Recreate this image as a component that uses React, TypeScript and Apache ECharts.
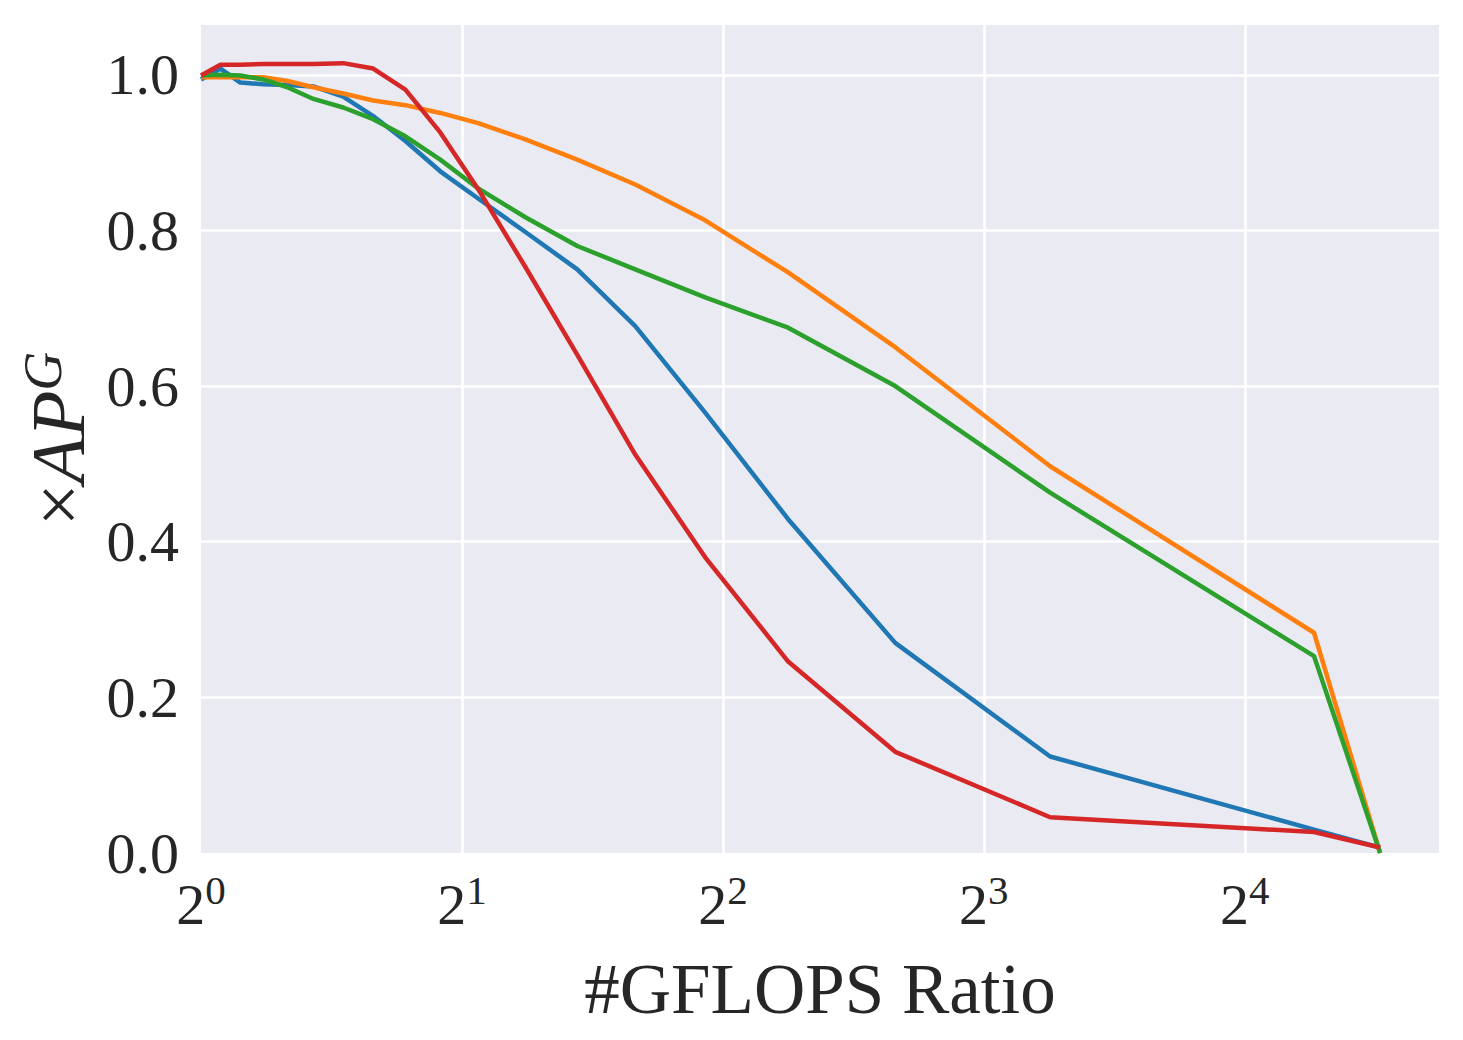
import React, { useEffect, useRef } from "react";
import * as echarts from "echarts";

// GFLOPS ratio (x, log2 axis)
const gflopsRatio = [
  1.0, 1.053, 1.11, 1.18, 1.258, 1.348, 1.459, 1.58, 1.721, 1.888,
  2.088, 2.367, 2.717, 3.169, 3.816, 4.757, 6.322, 9.54, 19.23, 22.92,
];
// ×AP^G for each method
const blueSeries = [
  0.994, 1.008, 0.99, 0.988, 0.987, 0.985, 0.972, 0.947, 0.915, 0.876,
  0.841, 0.798, 0.75, 0.677, 0.566, 0.429, 0.27, 0.124, 0.03, 0.007,
];
const orangeSeries = [
  0.997, 0.997, 0.997, 0.997, 0.992, 0.984, 0.976, 0.967, 0.961, 0.951,
  0.938, 0.917, 0.891, 0.859, 0.813, 0.746, 0.65, 0.497, 0.283, 0.0,
];
const greenSeries = [
  0.999, 1.0, 0.999, 0.994, 0.984, 0.969, 0.958, 0.943, 0.921, 0.891,
  0.854, 0.817, 0.78, 0.75, 0.714, 0.675, 0.6, 0.463, 0.253, 0.0,
];
const redSeries = [
  0.999, 1.013, 1.013, 1.014, 1.014, 1.014, 1.015, 1.008, 0.981, 0.926,
  0.853, 0.753, 0.64, 0.512, 0.38, 0.246, 0.13, 0.046, 0.027, 0.007,
];

const seriesList = [
  { name: "blue", color: "#1f77b4", values: blueSeries },
  { name: "orange", color: "#ff7f0e", values: orangeSeries },
  { name: "green", color: "#2ca02c", values: greenSeries },
  { name: "red", color: "#d62728", values: redSeries },
];

const X_MIN = 1;
const X_MAX = 26.8;
const Y_MIN = 0;
const Y_MAX = 1.064;

const FONT = "'Liberation Serif', 'DejaVu Serif', serif";
const TXT = "#262626";

export default function App() {
  const ref = useRef<HTMLDivElement>(null);
  useEffect(() => {
    if (!ref.current) return;
    const chart = echarts.init(ref.current, undefined, { renderer: "svg" });
    chart.setOption({
      animation: false,
      backgroundColor: "#ffffff",
      grid: {
        left: 201,
        right: 24,
        top: 25,
        bottom: 187,
        show: true,
        backgroundColor: "#EAEAF2",
        borderWidth: 0,
      },
      xAxis: {
        type: "log",
        logBase: 2,
        min: X_MIN,
        max: X_MAX,
        axisLine: { show: false },
        axisTick: { show: false },
        splitLine: {
          show: true,
          showMinLine: false,
          showMaxLine: false,
          lineStyle: { color: "#ffffff", width: 2.6 },
        },
        axisLabel: {
          showMaxLabel: false,
          margin: 16,
          fontFamily: FONT,
          color: TXT,
          formatter: (v: number) => {
            const e = Math.log2(v);
            const n = Math.round(e);
            if (Math.abs(e - n) > 1e-6) return "";
            return `{b|2}{s|${n}}`;
          },
          rich: {
            b: { fontFamily: FONT, fontSize: 58, color: TXT, lineHeight: 64, verticalAlign: "bottom" },
            s: { fontFamily: FONT, fontSize: 41, color: TXT, lineHeight: 40, verticalAlign: "top" },
          },
        },
        name: "#GFLOPS Ratio",
        nameLocation: "middle",
        nameGap: 100,
        nameTextStyle: { fontFamily: FONT, fontSize: 71, color: TXT },
      },
      yAxis: {
        type: "value",
        min: Y_MIN,
        max: Y_MAX,
        interval: 0.2,
        axisLine: { show: false },
        axisTick: { show: false },
        splitLine: {
          show: true,
          showMinLine: false,
          showMaxLine: false,
          lineStyle: { color: "#ffffff", width: 2.6 },
        },
        axisLabel: {
          showMaxLabel: false,
          margin: 22,
          fontFamily: FONT,
          fontSize: 58,
          color: TXT,
          formatter: (v: number) => {
            if (Math.abs(v * 5 - Math.round(v * 5)) > 1e-6) return "";
            return v.toFixed(1);
          },
        },
        name: "{x|×}{ap|AP}{g|G}",
        nameLocation: "middle",
        nameRotate: 90,
        nameGap: 99,
        nameTextStyle: {
          fontFamily: FONT,
          color: TXT,
          rich: {
            x: { fontFamily: FONT, fontSize: 76, color: TXT, lineHeight: 80, verticalAlign: "bottom" },
            ap: { fontFamily: FONT, fontSize: 76, fontStyle: "italic", color: TXT, lineHeight: 80, verticalAlign: "bottom" },
            g: { fontFamily: FONT, fontSize: 54, fontStyle: "italic", color: TXT, lineHeight: 46, verticalAlign: "top" },
          },
        },
      },
      series: seriesList.map((s) => ({
        name: s.name,
        type: "line",
        data: gflopsRatio.map((x, i) => [x, s.values[i]]),
        showSymbol: false,
        symbol: "none",
        clip: false,
        lineStyle: { color: s.color, width: 4.5, join: "round" },
        itemStyle: { color: s.color },
      })),
    });
    return () => chart.dispose();
  }, []);
  return (
    <div
      ref={ref}
      style={{ position: "fixed", left: 0, top: 0, width: 1463, height: 1040 }}
    />
  );
}
